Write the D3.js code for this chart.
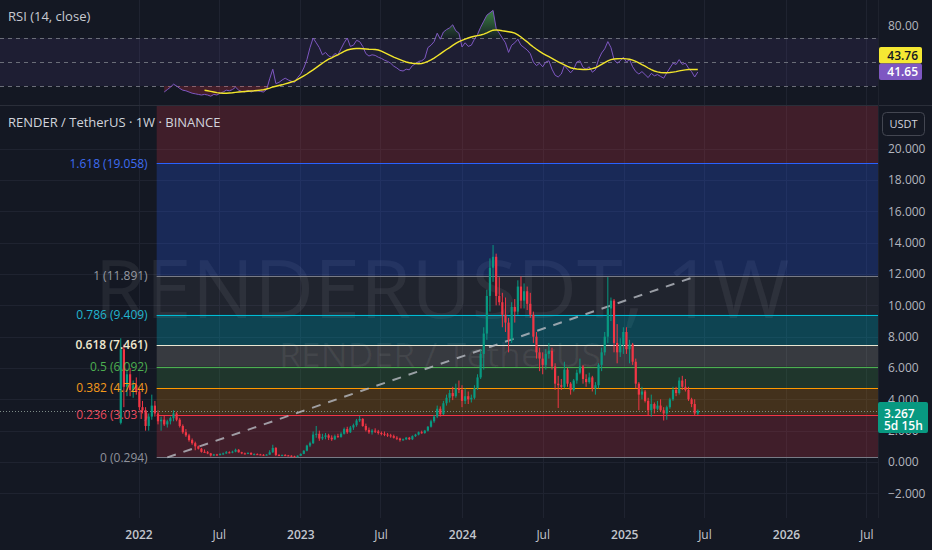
<!DOCTYPE html>
<html><head><meta charset="utf-8">
<script src="https://cdn.jsdelivr.net/npm/d3@7"></script>
<style>
html,body{margin:0;padding:0;background:#141823;overflow:hidden}
svg{display:block}
text{font-family:"Open Sans","Noto Sans",sans-serif}
</style></head><body>
<svg id="c" width="932" height="550"></svg>
<script>
// ---------------- DATA ----------------
const symbolTitle = "RENDER / TetherUS · 1W · BINANCE";
const watermarkBig = "RENDERUSDT, 1W";
const watermarkSmall = "RENDER / TetherUS";
const rsiTitle = "RSI (14, close)";
const startWeek = "2021-11-22";
// weekly candles [open, high, low, close]
const candles = [
[2.50,7.90,2.40,7.20],[7.20,7.50,3.50,4.80],[4.80,5.90,4.20,5.60],[5.60,6.00,4.20,4.60],[4.60,5.20,4.10,4.90],
[4.90,5.40,4.30,4.50],[4.50,4.70,3.30,3.50],[3.50,3.90,3.10,3.30],[3.30,3.50,2.00,2.30],[2.30,3.10,2.00,2.90],
[2.90,4.30,2.70,3.60],[3.60,3.90,2.90,3.10],[3.10,3.30,2.40,2.60],[2.60,2.90,2.00,2.70],[2.70,3.00,2.30,2.40],
[2.40,2.70,2.20,2.60],[2.60,2.90,2.40,2.80],[2.80,3.30,2.60,3.10],[3.10,3.20,2.60,2.70],[2.70,2.80,2.20,2.30],
[2.30,2.40,1.80,1.90],[1.90,2.10,1.60,1.70],[1.70,1.80,1.30,1.40],[1.40,1.50,1.10,1.20],[1.20,1.30,0.75,1.00],
[1.00,1.05,0.80,0.85],[0.85,0.90,0.60,0.65],[0.65,0.80,0.60,0.62],[0.62,0.70,0.50,0.55],[0.55,0.58,0.35,0.42],
[0.42,0.52,0.38,0.48],[0.48,0.52,0.40,0.44],[0.44,0.55,0.42,0.52],[0.52,0.60,0.45,0.55],[0.55,0.70,0.52,0.62],
[0.62,0.68,0.55,0.60],[0.60,0.72,0.56,0.66],[0.66,0.85,0.62,0.78],[0.78,0.82,0.60,0.62],[0.62,0.65,0.50,0.55],
[0.55,0.60,0.48,0.52],[0.52,0.62,0.50,0.58],[0.58,0.62,0.45,0.48],[0.48,0.55,0.44,0.50],[0.50,0.55,0.45,0.48],
[0.48,0.52,0.44,0.46],[0.46,0.50,0.40,0.44],[0.44,0.50,0.42,0.47],[0.47,0.75,0.46,0.62],[0.62,1.10,0.58,0.90],
[0.90,0.95,0.38,0.45],[0.45,0.50,0.38,0.42],[0.42,0.48,0.38,0.44],[0.44,0.50,0.40,0.42],[0.42,0.45,0.38,0.40],
[0.40,0.43,0.33,0.36],[0.36,0.40,0.30,0.33],[0.33,0.42,0.30,0.40],[0.40,0.55,0.38,0.52],[0.52,0.75,0.50,0.72],
[0.72,1.10,0.68,1.05],[1.05,1.30,0.95,1.20],[1.20,1.95,1.15,1.75],[1.75,2.30,1.55,1.80],[1.80,2.00,1.35,1.50],
[1.50,1.80,1.40,1.60],[1.60,1.85,1.45,1.70],[1.70,1.80,1.40,1.55],[1.55,1.70,1.35,1.45],[1.45,1.75,1.40,1.65],
[1.65,1.80,1.55,1.60],[1.60,1.90,1.55,1.80],[1.80,2.20,1.75,2.10],[2.10,2.25,1.80,1.90],[1.90,2.30,1.85,2.20],
[2.20,2.45,2.05,2.35],[2.35,2.75,2.25,2.65],[2.65,2.95,2.55,2.75],[2.75,2.80,2.25,2.30],[2.30,2.45,1.95,2.05],
[2.05,2.20,1.80,1.90],[1.90,2.10,1.75,2.00],[2.00,2.15,1.85,1.95],[1.95,2.05,1.75,1.85],[1.85,1.95,1.70,1.80],
[1.80,1.95,1.65,1.75],[1.75,1.85,1.60,1.70],[1.70,1.80,1.55,1.65],[1.65,1.75,1.50,1.55],[1.55,1.65,1.40,1.50],
[1.50,1.55,1.30,1.40],[1.40,1.50,1.35,1.45],[1.45,1.60,1.40,1.55],[1.55,1.60,1.40,1.45],[1.45,1.70,1.40,1.65],
[1.65,1.80,1.60,1.75],[1.75,1.95,1.70,1.90],[1.90,2.00,1.80,1.85],[1.85,2.05,1.80,2.00],[2.00,2.30,1.95,2.25],
[2.25,2.70,2.20,2.60],[2.60,3.00,2.50,2.90],[2.90,3.60,2.80,3.40],[3.40,3.55,2.90,3.05],[3.05,3.90,3.00,3.75],
[3.75,4.30,3.60,4.10],[4.10,4.60,3.80,4.40],[4.40,4.80,3.95,4.20],[4.20,5.00,4.10,4.70],[4.70,5.20,4.40,4.60],
[4.60,4.90,3.50,3.90],[3.90,4.70,3.70,4.20],[4.20,4.50,3.70,4.00],[4.00,4.30,3.80,4.10],[4.10,4.90,4.00,4.70],
[4.70,5.60,4.60,5.40],[5.40,7.20,5.30,6.90],[6.90,8.60,5.90,8.20],[8.20,11.00,7.80,10.60],[10.60,13.00,9.60,12.40],
[12.40,13.85,11.50,13.10],[13.10,13.30,10.00,10.60],[10.60,11.80,10.00,10.20],[10.20,10.80,8.60,9.40],[9.40,10.50,8.30,8.90],
[8.90,9.20,7.00,7.80],[7.80,10.20,7.60,9.90],[9.90,10.40,8.90,9.60],[9.60,11.60,9.40,11.20],[11.20,11.85,9.80,10.30],
[10.30,11.40,9.80,10.90],[10.90,11.20,9.70,10.10],[10.10,10.80,9.20,9.40],[9.40,9.60,7.60,8.00],[8.00,8.30,6.60,7.00],
[7.00,7.30,5.80,6.60],[6.60,7.00,5.60,6.20],[6.20,7.20,5.90,6.90],[6.90,7.60,6.60,7.10],[7.10,7.30,5.90,6.10],
[6.10,6.30,4.60,5.00],[5.00,5.50,3.45,4.90],[4.90,5.30,4.60,4.80],[4.80,6.40,4.70,5.90],[5.90,6.00,4.80,5.00],
[5.00,5.10,4.30,4.60],[4.60,5.30,4.50,5.20],[5.20,5.90,5.00,5.70],[5.70,6.60,5.60,6.10],[6.10,6.20,5.00,5.30],
[5.30,5.60,4.80,5.10],[5.10,5.70,5.00,5.40],[5.40,5.50,4.50,4.70],[4.70,5.10,4.30,4.90],[4.90,6.30,4.70,6.20],
[6.20,7.30,5.80,7.00],[7.00,8.30,6.80,8.00],[8.00,11.80,7.60,9.80],[9.80,10.50,9.00,10.30],[10.30,10.40,7.00,7.60],
[7.60,8.80,6.30,7.00],[7.00,7.90,6.70,7.50],[7.50,8.60,6.90,8.30],[8.30,8.60,6.90,7.20],[7.20,7.80,6.30,7.50],
[7.50,7.60,6.20,6.40],[6.40,6.60,4.70,5.00],[5.00,5.10,3.30,4.30],[4.30,4.80,4.00,4.50],[4.50,4.60,3.80,3.90],
[3.90,4.10,3.00,3.30],[3.30,4.30,2.90,3.70],[3.70,3.80,3.10,3.40],[3.40,3.90,3.30,3.60],[3.60,4.00,3.20,3.30],
[3.30,3.50,2.65,3.10],[3.10,3.60,2.70,3.50],[3.50,4.10,3.40,4.00],[4.00,4.80,3.90,4.60],[4.60,4.80,4.20,4.40],
[4.40,5.40,4.30,5.20],[5.20,5.50,4.60,4.80],[4.80,5.30,4.50,4.60],[4.60,4.80,3.90,4.00],[4.00,4.10,3.50,3.70],
[3.70,4.00,3.00,3.10],[3.10,3.35,3.00,3.267]
];
// RSI(14) per week, starting at week index rsiStart
const rsiStart = 14;
const rsiValues = [
25,27,29,31.5,30,28,26.5,26,25,24,23.5,23,22.5,23,22.5,21.5,23,22.5,24,25,
26.5,26,27,29,26.5,25.5,25,26.5,25,26,26,25.5,25,27,36,44,32,33,35,36.5,
35,34,33,37,40,45,52,62,70,66,62,56,58,55,54,57,56,61,66,70,
63,64,68,67,63,57,55,56,55.5,54,53,51.5,50.5,49,46.5,45,43,42.5,44,43.5,
47,48.5,50.5,51,53,62,64,67,74,69,75,77,78.5,81,76,74,62.5,66,63,64,
69,73,79,84,89,91,93,78,74,70,66,58,64,66,69,64,62,60,57,50,
47,49,46,50,51,44,39,37.5,40,47,44,41,44,50,51,45.5,44,46,41.5,43.5,
52,57.5,61,67,62,52,49,51,54,50,52,46,42,40,42,39.5,37,40.5,38.5,39.5,
38,36.5,41,45,49,48,52,48,49,45,42,37.5,41.65
];
// RSI moving average per week, starting at week index maStart
const maStart = 27;
const rsiMaValues = [
26.5,26,25.5,25,24.5,24.2,24,24,24.2,24.4,24.7,25,25.2,25.4,25.6,25.8,26,26.3,26.6,26.9,
27.5,28.2,29.2,29.8,30.4,31,31.8,32.5,33.3,34,35.5,37,38.5,40,41.8,43.5,45.3,47.2,49,50.8,
52.3,53.5,54.8,56,57.5,58.8,60,60.6,61,61.2,61.2,61,60.8,60.6,60.5,60.4,60,59,57.8,56.6,
55.3,54,53,52,51,50,49.4,49,48.8,48.6,48.8,49.5,50.5,51.8,53.2,55,56.8,58.6,60.4,62,
63.8,65.5,67,68,69,70,70.8,71.5,72,72.5,73.2,74.2,75.5,76.5,76.8,76.5,76,75.6,75.2,74.8,
74,72.6,70.8,68.8,66.8,64.5,62.5,60.6,58.8,57.2,55.8,54.4,53,51.6,50.2,48.8,47.6,46.3,45.2,44.6,
44.2,44,43.8,43.8,44,44.5,45.2,46.5,48,49.5,51,52,52.5,52.7,52.8,52.8,52.6,52.3,51.6,50.5,
49.2,47.8,46.5,45,43.6,42.5,41.8,41.3,41,41,41.2,41.6,42,42.6,43,43.4,43.7,43.8,43.8,43.76
];
const rsiBands = [70, 50, 30];
const rsiAxisTicks = [80];
// Fibonacci retracement
const fibStart = "2022-02-11";
const fibRatios = ["0", "0.236", "0.382", "0.5", "0.618", "0.786", "1", "1.618", "2.618"];
const fibPrices = [0.294, 3.031, 4.724, 6.092, 7.461, 9.409, 11.891, 19.058, 30.655];
const fibColors = ["#787b86", "#f23645", "#ff9800", "#4caf50", "#e9e6d2", "#00bcd4", "#787b86", "#2962ff", "#f23645"];
const fibLabelColors = ["#8f929b", "#e8475a", "#f59a1c", "#4caf50", "#efe8cf", "#22b5cf", "#9598a1", "#3e6cf0", "#f23645"];
const trendLine = [{date: "2022-03-07", price: 0.294}, {date: "2025-06-16", price: 11.891}];
// axes
const priceTicks = [-2, 0, 2, 4, 6, 8, 10, 12, 14, 16, 18, 20];
const timeTicks = ["2022-01-01","2022-07-01","2023-01-01","2023-07-01","2024-01-01","2024-07-01","2025-01-01","2025-07-01","2026-01-01","2026-07-01"];
const timeTickLabels = ["2022","Jul","2023","Jul","2024","Jul","2025","Jul","2026","Jul"];
const lastPrice = 3.267;
const countdown = "5d 15h";
const rsiLast = 41.65;
const rsiMaLast = 43.76;
const currency = "USDT";

// ---------------- LAYOUT ----------------
const W = 932, H = 550;
const plotR = 878;
const rsiTop = 0, rsiBot = 105, mainTop = 106, mainBot = 518;
const bg = "#141823", grid = "#1f2330";
const up = "#089981", down = "#f23645";

const svg = d3.select("#c");
svg.append("rect").attr("width", W).attr("height", H).attr("fill", bg);

const x = d3.scaleUtc().domain([new Date("2022-01-01"), new Date("2026-01-01")]).range([138.5, 786]);
const y = d3.scaleLinear().domain([0, 20]).range([462, 148.7]);
const ry = d3.scaleLinear().domain([30, 70]).range([86, 38]);
const weekDate = i => d3.utcMonday.offset(new Date(startWeek), i);

const defs = svg.append("defs");
defs.append("clipPath").attr("id", "mainClip").append("rect").attr("x", 0).attr("y", mainTop).attr("width", plotR).attr("height", mainBot - mainTop);
defs.append("clipPath").attr("id", "rsiClip").append("rect").attr("x", 0).attr("y", rsiTop).attr("width", plotR).attr("height", rsiBot - rsiTop);

// gridlines
const gGrid = svg.append("g");
gGrid.selectAll("line.v").data(timeTicks).join("line")
  .attr("x1", d => Math.round(x(new Date(d))) + 0.5).attr("x2", d => Math.round(x(new Date(d))) + 0.5)
  .attr("y1", 0).attr("y2", mainBot).attr("stroke", grid).attr("stroke-width", 1);
gGrid.selectAll("line.h").data(priceTicks).join("line")
  .attr("x1", 0).attr("x2", plotR)
  .attr("y1", d => Math.round(y(d)) + 0.5).attr("y2", d => Math.round(y(d)) + 0.5)
  .attr("stroke", grid).attr("stroke-width", 1);
// pane separators
svg.append("line").attr("x1", 0).attr("x2", W).attr("y1", rsiBot + 0.5).attr("y2", rsiBot + 0.5).attr("stroke", "#2a2e39");
svg.append("line").attr("x1", plotR + 0.5).attr("x2", plotR + 0.5).attr("y1", 0).attr("y2", mainBot).attr("stroke", "#1e222d");

// ---------------- RSI PANE ----------------
const gR = svg.append("g").attr("clip-path", "url(#rsiClip)");
gR.append("rect").attr("x", 0).attr("width", plotR).attr("y", ry(70)).attr("height", ry(30) - ry(70)).attr("fill", "rgba(126,87,194,0.10)");
gR.selectAll("line.band").data(rsiBands).join("line")
  .attr("x1", 0).attr("x2", plotR).attr("y1", d => Math.round(ry(d)) + 0.5).attr("y2", d => Math.round(ry(d)) + 0.5)
  .attr("stroke", "#6a6d78").attr("stroke-dasharray", "4,4");
const rsiData = rsiValues.map((v, k) => ({d: weekDate(rsiStart + k), v}));
const maData = rsiMaValues.map((v, k) => ({d: weekDate(maStart + k), v}));
const grad = defs.append("linearGradient").attr("id", "obGrad").attr("x1", 0).attr("y1", 0).attr("x2", 0).attr("y2", 1)
  .attr("gradientUnits", "userSpaceOnUse").attr("y1", ry(95)).attr("y2", ry(70));
grad.append("stop").attr("offset", 0).attr("stop-color", "#4caf50").attr("stop-opacity", 0.75);
grad.append("stop").attr("offset", 1).attr("stop-color", "#4caf50").attr("stop-opacity", 0.05);
gR.append("path").datum(rsiData)
  .attr("d", d3.area().x(p => x(p.d)).y0(ry(70)).y1(p => ry(Math.max(p.v, 70))))
  .attr("fill", "url(#obGrad)");
gR.append("path").datum(rsiData)
  .attr("d", d3.area().x(p => x(p.d)).y0(ry(30)).y1(p => ry(Math.min(p.v, 30))))
  .attr("fill", "rgba(242,54,69,0.22)");
gR.append("path").datum(rsiData)
  .attr("d", d3.line().x(p => x(p.d)).y(p => ry(p.v)))
  .attr("fill", "none").attr("stroke", "#7e57c2").attr("stroke-width", 1);
gR.append("path").datum(maData)
  .attr("d", d3.line().x(p => x(p.d)).y(p => ry(p.v)))
  .attr("fill", "none").attr("stroke", "#f2e52b").attr("stroke-width", 1.4);
svg.append("text").attr("x", 8).attr("y", 21).attr("fill", "#c8cad1").attr("font-size", 13).text(rsiTitle);

// ---------------- MAIN PANE ----------------
const gM = svg.append("g").attr("clip-path", "url(#mainClip)");
const fx0 = x(new Date(fibStart));
// watermarks
gM.append("text").attr("x", 442).attr("y", 318).attr("text-anchor", "middle")
  .attr("font-size", 80).attr("fill", "rgba(255,255,255,0.065)")
  .attr("textLength", 695).attr("lengthAdjust", "spacingAndGlyphs").text(watermarkBig);
// fib zones
const zones = d3.range(fibPrices.length - 1).map(k => ({lo: fibPrices[k], hi: fibPrices[k + 1], c: fibColors[k + 1]}));
gM.selectAll("rect.zone").data(zones).join("rect")
  .attr("x", fx0).attr("width", plotR - fx0)
  .attr("y", d => y(d.hi)).attr("height", d => y(d.lo) - y(d.hi))
  .attr("fill", d => d.c).attr("fill-opacity", (d, k) => [0.2, 0.2, 0.2, 0.17, 0.27, 0.12, 0.24, 0.2][k]);
gM.append("text").attr("x", 440).attr("y", 367).attr("text-anchor", "middle")
  .attr("font-size", 33).attr("fill", "rgba(255,255,255,0.06)")
  .attr("textLength", 322).attr("lengthAdjust", "spacingAndGlyphs").text(watermarkSmall);
gM.selectAll("line.fib").data(fibPrices.slice(0, 8)).join("line")
  .attr("x1", fx0).attr("x2", plotR)
  .attr("y1", d => Math.round(y(d)) + 0.5).attr("y2", d => Math.round(y(d)) + 0.5)
  .attr("stroke", (d, k) => fibColors[k]).attr("stroke-width", 1.2);
// current price line
gM.append("line").attr("x1", 0).attr("x2", plotR).attr("y1", Math.round(y(lastPrice)) + 0.5).attr("y2", Math.round(y(lastPrice)) + 0.5)
  .attr("stroke", "#7c8a86").attr("stroke-dasharray", "1,2");
// trend line
gM.append("path").datum(trendLine)
  .attr("d", d3.line().x(p => x(new Date(p.date))).y(p => y(p.price)))
  .attr("stroke", "#b8bbc3").attr("stroke-opacity", 0.8).attr("stroke-width", 2).attr("stroke-dasharray", "9,8").attr("fill", "none");
// candles
const cData = candles.map((c, i) => ({d: weekDate(i), o: c[0], h: c[1], l: c[2], c: c[3]}));
const gC = gM.append("g");
gC.selectAll("line.wick").data(cData).join("line")
  .attr("x1", d => x(d.d)).attr("x2", d => x(d.d))
  .attr("y1", d => y(d.h)).attr("y2", d => y(d.l))
  .attr("stroke", d => d.c >= d.o ? up : down).attr("stroke-width", 1);
gC.selectAll("rect.body").data(cData).join("rect")
  .attr("x", d => x(d.d) - 1.1).attr("width", 2.2)
  .attr("y", d => y(Math.max(d.o, d.c)))
  .attr("height", d => Math.max(1, y(Math.min(d.o, d.c)) - y(Math.max(d.o, d.c))))
  .attr("fill", d => d.c >= d.o ? up : down);
// fib labels
svg.selectAll("text.fibl").data(fibPrices.slice(0, 8)).join("text")
  .attr("x", fx0 - 9).attr("y", d => y(d)).attr("dy", "0.35em").attr("text-anchor", "end")
  .attr("font-size", 12).attr("font-weight", (d, k) => k === 4 ? 600 : 400)
  .attr("fill", (d, k) => fibLabelColors[k])
  .text((d, k) => `${fibRatios[k]} (${d3.format(".3f")(d)})`);
svg.append("text").attr("x", 8).attr("y", 127).attr("fill", "#d1d4dc").attr("font-size", 13).text(symbolTitle);

// ---------------- AXES ----------------
const pAxis = svg.append("g").attr("transform", `translate(${plotR},0)`)
  .call(d3.axisRight(y).tickValues(priceTicks).tickFormat(d3.format(".3f")).tickSize(0).tickPadding(10));
pAxis.select(".domain").remove();
pAxis.selectAll("text").attr("fill", "#b2b5be").attr("font-size", 12).attr("font-family", "Open Sans, Noto Sans, sans-serif");

const rAxis = svg.append("g").attr("transform", `translate(${plotR},0)`)
  .call(d3.axisRight(ry).tickValues(rsiAxisTicks).tickFormat(d3.format(".2f")).tickSize(0).tickPadding(10));
rAxis.select(".domain").remove();
rAxis.selectAll("text").attr("fill", "#b2b5be").attr("font-size", 12).attr("font-family", "Open Sans, Noto Sans, sans-serif");

const tAxis = svg.append("g").attr("transform", `translate(0,${mainBot})`)
  .call(d3.axisBottom(x).tickValues(timeTicks.map(t => new Date(t))).tickFormat((d, i) => timeTickLabels[i]).tickSize(0).tickPadding(12));
tAxis.select(".domain").remove();
tAxis.selectAll("text").attr("fill", "#c3c6ce").attr("font-size", 12).attr("font-family", "Open Sans, Noto Sans, sans-serif")
  .attr("font-weight", (d, i) => timeTickLabels[i] === "Jul" ? 400 : 600);

// currency box
svg.append("rect").attr("x", 882.5).attr("y", 112.5).attr("width", 42).attr("height", 23).attr("rx", 4)
  .attr("fill", bg).attr("stroke", "#434651");
svg.append("text").attr("x", 903.5).attr("y", 128).attr("text-anchor", "middle").attr("fill", "#d1d4dc").attr("font-size", 11).text(currency);

// last price tag
svg.append("rect").attr("x", plotR).attr("y", 402).attr("width", 50).attr("height", 31).attr("rx", 2).attr("fill", up);
svg.append("text").attr("x", 884).attr("y", 414).attr("dy", "0.35em").attr("fill", "#fff").attr("font-size", 12).attr("font-weight", 600).text(d3.format(".3f")(lastPrice));
svg.append("text").attr("x", 884).attr("y", 426).attr("dy", "0.35em").attr("fill", "#fff").attr("font-size", 12).attr("font-weight", 600).text(countdown);

// RSI value tags
svg.append("rect").attr("x", plotR + 1).attr("y", 47).attr("width", 43).attr("height", 16.5).attr("rx", 2).attr("fill", "#f5e833");
svg.append("text").attr("x", 918).attr("y", 55.5).attr("dy", "0.35em").attr("text-anchor", "end").attr("fill", "#131722").attr("font-size", 12).attr("font-weight", 600).text(d3.format(".2f")(rsiMaLast));
svg.append("rect").attr("x", plotR + 1).attr("y", 63.5).attr("width", 43).attr("height", 16.5).attr("rx", 2).attr("fill", "#7e57c2");
svg.append("text").attr("x", 918).attr("y", 72).attr("dy", "0.35em").attr("text-anchor", "end").attr("fill", "#fff").attr("font-size", 12).attr("font-weight", 600).text(d3.format(".2f")(rsiLast));
</script>
</body></html>
